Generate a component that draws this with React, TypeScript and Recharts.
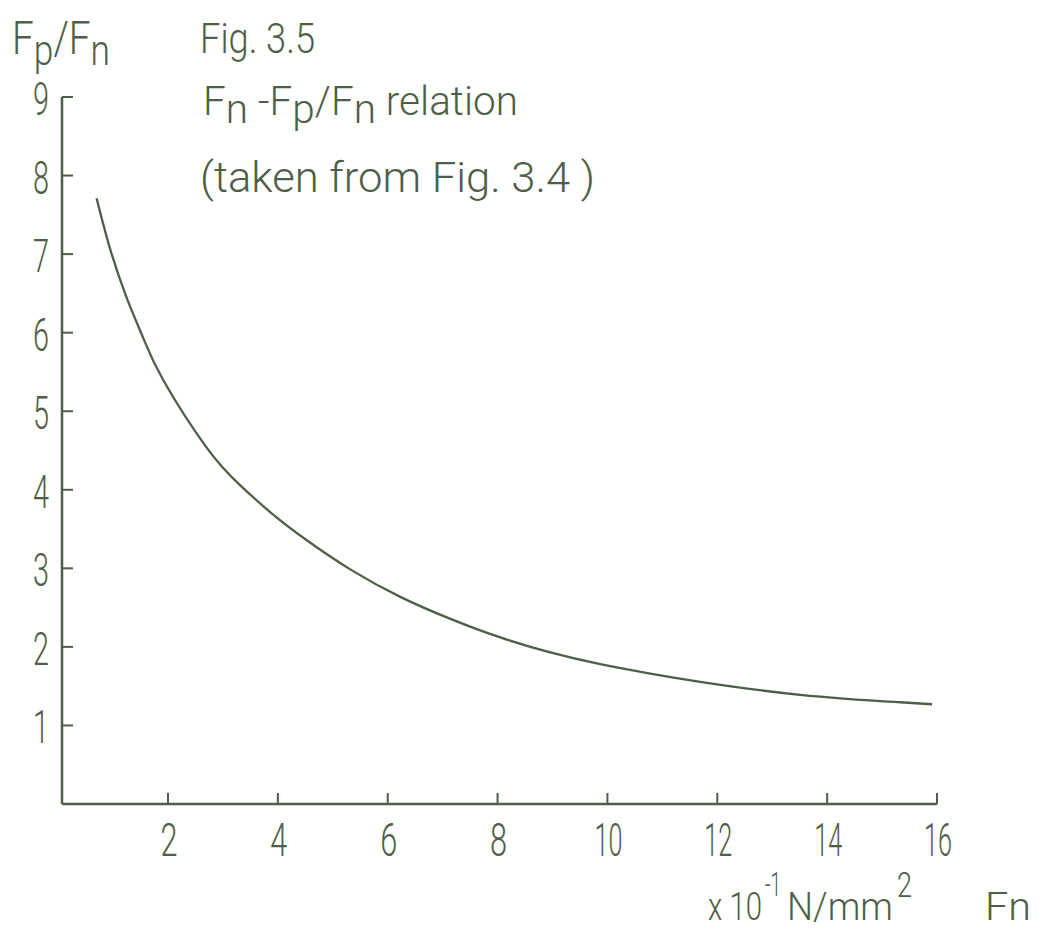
import React, { useLayoutEffect, useRef, useState } from 'react';
import { LineChart, Line, XAxis, YAxis } from 'recharts';

// values (Fn in 10^-1 N/mm2, ratio Fp/Fn)
const fnValues = [0.7, 0.94, 1.25, 1.55, 1.91, 2.7, 3.31, 3.92, 4.52, 5.31, 6.22, 7.13, 8.05, 8.96, 9.87, 10.78, 11.69, 13.51, 15.33, 15.91];
const ratioValues = [7.71, 7.08, 6.44, 5.93, 5.4, 4.54, 4.06, 3.68, 3.36, 2.99, 2.64, 2.36, 2.12, 1.93, 1.78, 1.66, 1.555, 1.39, 1.295, 1.27];
const xTicks = [2, 4, 6, 8, 10, 12, 14, 16];
const yTicks = [1, 2, 3, 4, 5, 6, 7, 8, 9];

const INK = '#4f5e46';
const FONT = 'Roboto, "DejaVu Sans", sans-serif';

const data = fnValues.map((fn, i) => ({ fn, ratio: ratioValues[i] }));

// hand lettering is narrow: measure the text and squeeze it to the width it has in the figure
const Letters = ({ x, y, w, size, children }: any) => {
  const ref = useRef<SVGTextElement>(null);
  const [sx, setSx] = useState(1);
  useLayoutEffect(() => {
    if (ref.current) {
      const natural = ref.current.getComputedTextLength();
      if (natural > 0) setSx(w / natural);
    }
  }, [w, size]);
  return (
    <text
      ref={ref}
      x={0}
      y={0}
      transform={`translate(${x},${y}) scale(${sx},1)`}
      fill={INK}
      fontFamily={FONT}
      fontWeight={300}
      fontSize={size}
    >
      {children}
    </text>
  );
};

const XTick = ({ x, y, payload }: any) => {
  const label = String(payload.value);
  const w = label.length > 1 ? 28 : 17;
  return (
    <g>
      <line x1={x} y1={y} x2={x} y2={y - 11} stroke={INK} strokeWidth={2} />
      <Letters x={x - w / 2 + 1} y={y + 52} w={w} size={46}>
        {label}
      </Letters>
    </g>
  );
};

const YTick = ({ x, y, payload }: any) => (
  <g>
    <line x1={x} y1={y} x2={x + 11} y2={y} stroke={INK} strokeWidth={2} />
    <Letters x={x - 29} y={y + 18} w={16} size={46}>
      {payload.value}
    </Letters>
  </g>
);

export default function App() {
  return (
    <div style={{ position: 'absolute', left: 0, top: 0, width: 1040, height: 934, background: '#fff' }}>
      <LineChart width={1040} height={934} data={data} margin={{ top: 97, right: 103, bottom: 0, left: 0 }}>
        <XAxis
          dataKey="fn"
          type="number"
          domain={[0.07, 16]}
          ticks={xTicks}
          height={130}
          tickSize={0}
          tickMargin={0}
          tickLine={false}
          tick={<XTick />}
          axisLine={{ stroke: INK, strokeWidth: 2.5 }}
          allowDataOverflow
        />
        <YAxis
          type="number"
          domain={[0, 9]}
          ticks={yTicks}
          width={62}
          tickSize={0}
          tickMargin={0}
          tickLine={false}
          tick={<YTick />}
          axisLine={{ stroke: INK, strokeWidth: 2.5 }}
        />
        <Line type="natural" dataKey="ratio" stroke={INK} strokeWidth={2.3} dot={false} isAnimationActive={false} />
      </LineChart>

      <svg width={1040} height={934} style={{ position: 'absolute', left: 0, top: 0, pointerEvents: 'none' }}>
        {/* y axis title */}
        <Letters x={12} y={54} w={98} size={46}>
          F<tspan fontSize={42} dy={11}>p</tspan>
          <tspan dy={-11}>/F</tspan>
          <tspan fontSize={42} dy={11}>n</tspan>
        </Letters>

        {/* caption */}
        <Letters x={200} y={53} w={115} size={42}>Fig. 3.5</Letters>
        <Letters x={203} y={115} w={315} size={40}>
          F<tspan dy={8}>n</tspan>
          <tspan dy={-8}> -F</tspan>
          <tspan dy={8}>p</tspan>
          <tspan dy={-8}>/F</tspan>
          <tspan dy={8}>n</tspan>
          <tspan dy={-8}>  relation</tspan>
        </Letters>
        <Letters x={200} y={192} w={395} size={42}>(taken  from  Fig. 3.4 )</Letters>

        {/* x axis unit and title */}
        <Letters x={708} y={920} w={54} size={38}>x 10</Letters>
        <Letters x={765} y={896} w={16} size={34}>-1</Letters>
        <Letters x={787} y={920} w={106} size={38}>N/mm</Letters>
        <Letters x={897} y={897} w={15} size={36}>2</Letters>
        <Letters x={985} y={920} w={46} size={38}>Fn</Letters>
      </svg>
    </div>
  );
}
